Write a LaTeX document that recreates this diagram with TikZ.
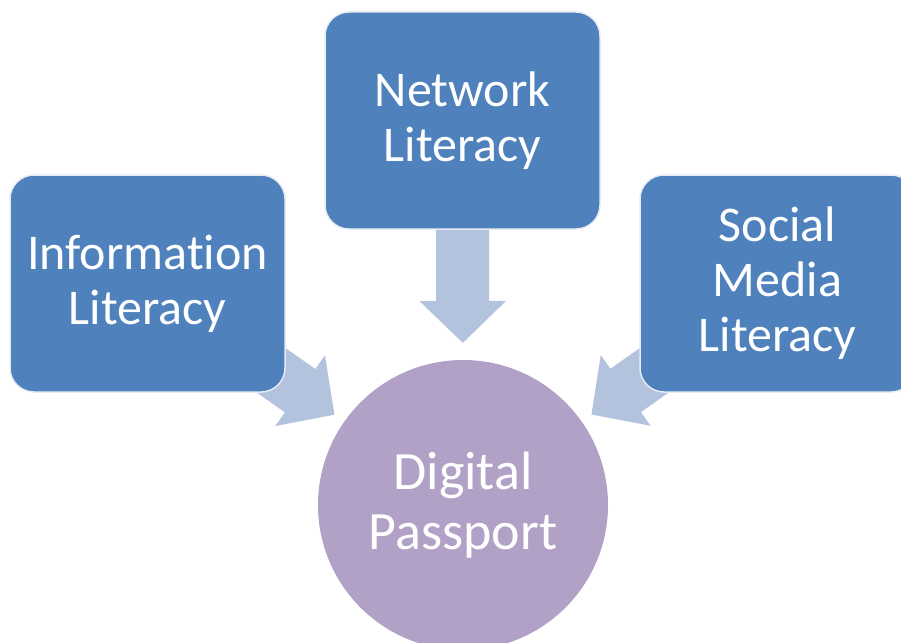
\documentclass[tikz,border=0pt]{standalone}
\usepackage{fontspec}
\setmainfont[Ligatures=NoCommon]{Carlito}
\usetikzlibrary{arrows.meta,calc,backgrounds}
\definecolor{boxblue}{HTML}{4F81BD}
\definecolor{arrowblue}{HTML}{B3C2DD}
\definecolor{circpurple}{HTML}{B1A1C7}
\begin{document}
\begin{tikzpicture}[x=1pt,y=-1pt,
  litbox/.style={rectangle, rounded corners=24pt, fill=boxblue, draw=white!85!boxblue, line width=1.5pt,
    minimum width=275pt, minimum height=217pt, text=white, align=center,
    font=\fontsize{50}{55}\selectfont, inner sep=0pt},
  passport/.style={circle, fill=circpurple, minimum size=290pt, text=white, align=center,
    font=\fontsize{54}{60}\selectfont, inner sep=0pt},
  blockarrow/.style={draw=arrowblue, fill=arrowblue, line width=53pt,
    -{Triangle[length=42pt,width=84pt]}}]
\useasboundingbox (0,0) rectangle (901,642);
\node[passport] (dp) at (463,505) {Digital\\Passport};
\node[litbox] (net) at (462.5,120.5) {Network\\Literacy};
\node[litbox] (info) at (147.5,283.5) {Information\\Literacy};
\node[litbox] (soc) at (777.5,283.5) {Social\\Media\\Literacy};
\coordinate (tipN) at ($(dp.center)!162pt!(net.center)$);
\coordinate (tipI) at ($(dp.center)!157pt!(info.center)$);
\coordinate (tipS) at ($(dp.center)!157pt!(soc.center)$);
\begin{scope}[on background layer]
  \draw[blockarrow] (net.center) -- (tipN);
  \draw[blockarrow] (info.center) -- (tipI);
  \draw[blockarrow] (soc.center) -- (tipS);
\end{scope}
\end{tikzpicture}
\end{document}
